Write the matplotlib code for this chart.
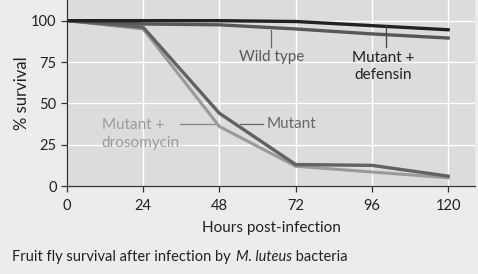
import matplotlib.pyplot as plt

plt.rcParams['font.family'] = ['Lato', 'DejaVu Sans']

hours = [0, 24, 48, 72, 96, 120]
wild_type = [100, 98, 97.5, 95, 92, 89.5]
mutant_defensin = [100, 100, 100, 99.5, 97, 94.5]
mutant = [100, 96, 44, 13, 12.5, 6]
mutant_drosomycin = [100, 95, 36, 12, 8.5, 5]

fig = plt.figure(figsize=(4.78, 2.74), dpi=100, facecolor='#ececec')
ax = fig.add_axes([0.140, 0.321, 0.854, 0.679])
ax.set_facecolor('#dcdcdc')

ax.plot(hours, mutant_drosomycin, color='#9a9a9a', lw=2.2, solid_joinstyle='miter')
ax.plot(hours, mutant, color='#626262', lw=2.4, solid_joinstyle='miter')
ax.plot(hours, wild_type, color='#585858', lw=2.4)
ax.plot(hours, mutant_defensin, color='#222222', lw=2.4)

ax.set_xlim(0, 128.5)
ax.set_ylim(0, 112.5)
ax.set_xticks(hours)
ax.set_yticks([0, 25, 50, 75, 100])
ax.grid(True, color='white', lw=1.0)
ax.set_axisbelow(True)
for s in ['top', 'right']:
    ax.spines[s].set_visible(False)
for s in ['left', 'bottom']:
    ax.spines[s].set_color('#333333')
    ax.spines[s].set_linewidth(0.9)
ax.tick_params(colors='#333333', labelcolor='#222222', labelsize=10.5, length=4, width=0.9)
ax.tick_params(axis='x', pad=5)

ax.set_xlabel('Hours post-infection', fontsize=11, color='#222222', labelpad=6)
ax.set_ylabel('% survival', fontsize=12, color='#222222', labelpad=1)

# callouts
ax.plot([64.3, 64.3], [94.5, 84], color='#666666', lw=0.9)
ax.text(64.3, 78, 'Wild type', color='#5a5a5a', fontsize=11, ha='center', va='center')
ax.plot([100.5, 100.5], [97.5, 84], color='#444444', lw=0.9)
ax.text(99.5, 72.3, 'Mutant +\ndefensin', color='#222222', fontsize=11,
        ha='center', va='center', linespacing=1.3)
ax.plot([35.5, 46.5], [37.5, 37.5], color='#888888', lw=0.9)
ax.text(11, 31.5, 'Mutant +\ndrosomycin', color='#9a9a9a', fontsize=11,
        ha='left', va='center', linespacing=1.3)
ax.plot([54.5, 61.7], [37.5, 37.5], color='#666666', lw=0.9)
ax.text(63, 37.5, 'Mutant', color='#666666', fontsize=11, ha='left', va='center')

# caption with italic species name
fig.canvas.draw()
r = fig.canvas.get_renderer()
x = 0.025
for part, style in [('Fruit fly survival after infection by ', 'normal'),
                    ('M. luteus', 'italic'), (' bacteria', 'normal')]:
    t = fig.text(x, 0.062, part, fontsize=10.5, color='#222222', ha='left',
                 va='center', style=style)
    bb = t.get_window_extent(renderer=r)
    x += bb.width / fig.bbox.width
    if part.endswith(' '):
        x += 0.004

fig.savefig('out.png', dpi=100, facecolor=fig.get_facecolor())
